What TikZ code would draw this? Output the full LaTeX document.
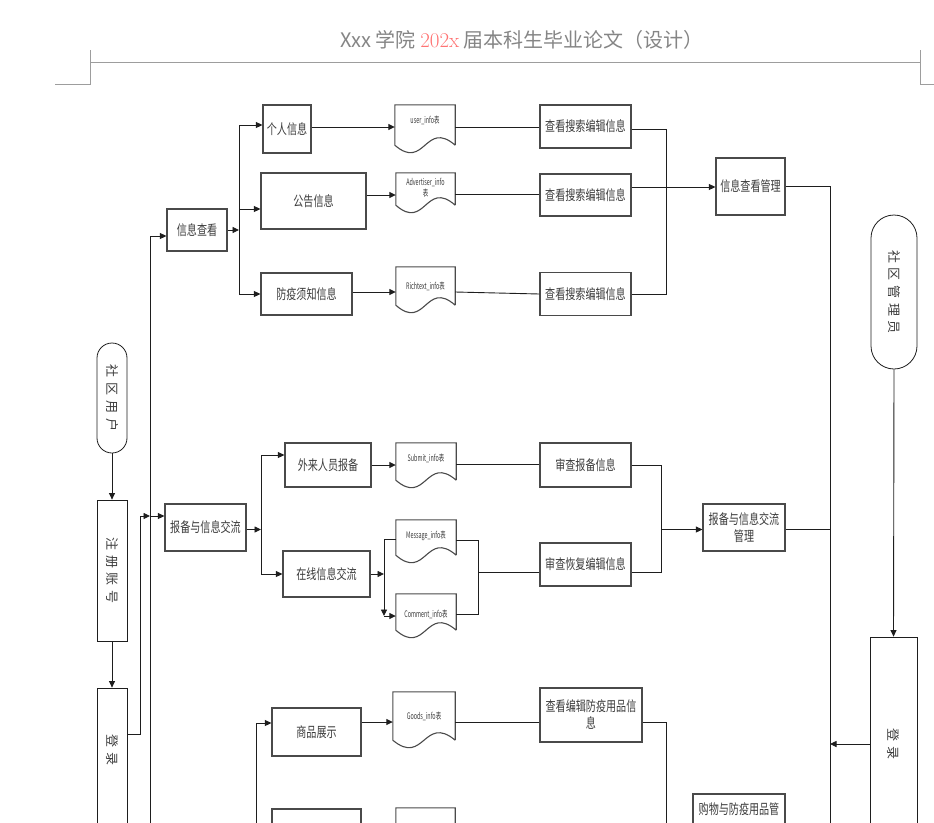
\documentclass[tikz,border=0pt]{standalone}
\usepackage{fontspec}
\newfontfamily\boxfont[FakeStretch=0.72]{Noto Sans CJK SC}
\newfontfamily\vertfont[LetterSpace=36]{Noto Sans CJK SC}
\newfontfamily\docfont[FakeStretch=0.6]{Noto Sans CJK SC}
\newfontfamily\headfont{Noto Sans CJK SC}
\usepackage{xcolor}
\definecolor{cLine}{HTML}{1E1E1E}
\definecolor{cBorder}{HTML}{4A4A4A}
\definecolor{cText}{HTML}{3C3C3C}
\definecolor{cHead}{HTML}{858585}
\definecolor{cRed}{HTML}{FF7373}
\usepackage{tikz}
\usetikzlibrary{positioning, arrows.meta, calc}

% document shape drawn round a (borderless) node
\newcommand{\docshape}[1]{%
  \draw[docline] (#1.south east) -- (#1.north east) -- (#1.north west) -- (#1.south west)
    .. controls ($(#1.south)+(0,26)$) and ($(#1.south)+(0,-26)$) .. (#1.south east);}
\newcommand{\vtxt}[1]{\rotatebox{-90}{#1}}

\begin{document}
\begin{tikzpicture}[
    x=1pt, y=-1pt,
    procbox/.style={draw=cBorder, line width=1.2pt, fill=white, align=center,
                    inner sep=1pt, text=cText, font={\fontsize{14}{17}\boxfont}},
    endbox/.style={procbox, line width=0.8pt, draw=cLine, font={\fontsize{13}{15}\vertfont}},
    docbox/.style={inner sep=0pt, align=center, text=cText,
                   font={\fontsize{9}{11}\docfont}},
    docline/.style={draw=cBorder, line width=1.1pt, fill=white},
    arr/.style={-{Triangle[length=6.5pt,width=6pt]}, line width=0.9pt, draw=cLine},
    ln/.style={line width=0.9pt, draw=cLine},
    hdrline/.style={draw=cHead!80, line width=0.8pt}
]
\useasboundingbox (0,0) rectangle (934,822);
\clip (0,0) rectangle (934,822);

% header
\node[text=cHead, inner sep=0pt] (hdr) at (522,40)
  {{\fontsize{20}{22}\headfont Xxx 学院 }{\fontsize{21}{22}\rmfamily\color{cRed}202x}{\fontsize{20}{22}\headfont\ 届本科生毕业论文（设计）}};
\draw[hdrline] (90,62) -- (920,62);
\draw[hdrline] (55,84) -- (90,84) -- (90,50);
\draw[hdrline] (934,84) -- (920,84) -- (920,50);

% actors
\node[endbox, rounded corners=15pt, minimum width=30, minimum height=110] (yh) at (112,398) {\vtxt{社区用户}};
\node[endbox, rounded corners=23pt, minimum width=46, minimum height=154] (gly) at (894,292) {\vtxt{社区管理员}};
\node[endbox, minimum width=30, minimum height=141] (zc) at (112,570.5) {\vtxt{注册账号}};
\node[endbox, minimum width=30, minimum height=212] (dl1) at (112,794) {};
\node[inner sep=0pt, text=cText, font={\fontsize{13}{15}\vertfont}] (dl1txt) at (112,750) {\vtxt{登录}};
\node[endbox, minimum width=47, minimum height=214] (dl2) at (893.5,744) {\vtxt{登录}};

% info view
\node[procbox, minimum width=60, minimum height=42] (xxck) at (197,230) {信息查看};
\node[procbox, minimum width=48, minimum height=48] (gerenxx) at (287,129) {个人信息};
\node[procbox, minimum width=105, minimum height=56] (gonggao) at (313.5,201) {公告信息};
\node[procbox, minimum width=91, minimum height=42] (fangyi) at (306.5,294) {防疫须知信息};
\node[docbox, minimum width=60, minimum height=40] (user) at (425,125) {};
\node[docbox, minimum width=59, minimum height=32] (adv) at (425.5,189) {};
\node[docbox, minimum width=59, minimum height=38] (rich) at (425.5,286) {};
\node[procbox, minimum width=91, minimum height=43] (ck1) at (585.5,126.5) {查看搜索编辑信息};
\node[procbox, minimum width=91, minimum height=42] (ck2) at (585.5,195) {查看搜索编辑信息};
\node[procbox, minimum width=91, minimum height=43] (ck3) at (585.5,294) {查看搜索编辑信息};
\node[procbox, minimum width=69, minimum height=57] (xxckgl) at (750.5,186.5) {信息查看管理};

% report and messages
\node[procbox, minimum width=81, minimum height=47] (bbxx) at (205.5,527.5) {报备与信息交流};
\node[procbox, minimum width=86, minimum height=44] (wbry) at (328,465) {外来人员报备};
\node[procbox, minimum width=87, minimum height=46] (zxxx) at (326.5,574) {在线信息交流};
\node[docbox, minimum width=60, minimum height=37] (submit) at (426,461.5) {};
\node[docbox, minimum width=60, minimum height=35] (msg) at (426,537.5) {};
\node[docbox, minimum width=60, minimum height=36] (cmt) at (426,612) {};
\node[procbox, minimum width=91, minimum height=44] (shbb) at (585.5,465) {审查报备信息};
\node[procbox, minimum width=91, minimum height=43] (shcf) at (585.5,564.5) {审查恢复编辑信息};
\node[procbox, minimum width=82, minimum height=47] (bbgl) at (744,527.5) {报备与信息交流\\管理};

% shop
\node[procbox, minimum width=89, minimum height=48] (spzs) at (316.5,732) {商品展示};
\node[docbox, minimum width=62, minimum height=48] (goods) at (424,716) {};
\node[procbox, minimum width=102, minimum height=54] (ckfy) at (591,715) {查看编辑防疫用品信\\息};
\node[procbox, minimum width=92, minimum height=50, font={\fontsize{14}{21}\boxfont}] (gwgl) at (739,819) {购物与防疫用品管\\理};
\node[procbox, minimum width=89, minimum height=48] (row4a) at (316.5,833) {};
\node[docbox, minimum width=59, minimum height=44] (row4b) at (425.5,830) {};

% document shapes and their labels
\foreach \d in {user, adv, rich, submit, msg, cmt, goods, row4b} {\docshape{\d}}
\node[docbox] at ([yshift=5]user.center) {user\_info表};
\node[docbox] at ([yshift=1]adv.center) {Advertiser\_info\\表};
\node[docbox] at (rich.center) {Richtext\_info表};
\node[docbox] at ([yshift=3]submit.center) {Submit\_info表};
\node[docbox] at ([yshift=2]msg.center) {Message\_info表};
\node[docbox] at ([yshift=-2]cmt.center) {Comment\_info表};
\node[docbox] at (goods.center) {Goods\_info表};

% junction points
\coordinate (bus) at (150,900);
\coordinate (k1) at (140,516);
\coordinate (k2) at (256,900);
\coordinate (j1) at (239,0);
\coordinate (m1) at (666,0);
\coordinate (rbus) at (830,900);
\coordinate (j2) at (261,0);
\coordinate (j3) at (384,0);
\coordinate (j4) at (478,0);
\coordinate (j5) at (661,0);
\coordinate (k3) at (666,900);
\coordinate (sh) at ([yshift=-8]shcf.west);
\coordinate (sh2) at ([yshift=-8]shcf.east);

% user side
\draw[arr] (yh.south) -- (zc.north);
\draw[arr] (zc.south) -- (dl1.north);
\draw[arr] ([yshift=-47]dl1.north east) -| (k1) -- (k1 -| bus);
\draw[ln] ([yshift=-6]xxck.west -| bus) -- (bus);
\draw[arr] ([yshift=-6]xxck.west -| bus) -- ([yshift=-6]xxck.west);
\draw[arr] (k1 -| bus) -- (k1 -| bbxx.west);
\draw[arr] (k2) |- ([yshift=9]spzs.west);

% info view
\draw[arr] (xxck.east) -- (xxck.east -| j1);
\draw[ln] ([yshift=4]j1 |- gerenxx) -- (j1 |- fangyi);
\draw[arr] ([yshift=4]j1 |- gerenxx) -- ([yshift=4]gerenxx.west);
\draw[arr] ([yshift=-8]j1 |- gonggao) -- ([yshift=-8]gonggao.west);
\draw[arr] (j1 |- fangyi) -- (fangyi.west);
\draw[arr] ([yshift=2]gerenxx.east) -- ([yshift=2]gerenxx.east -| user.west);
\draw[arr] ([yshift=6]gonggao.east) -- ([yshift=6]gonggao.east -| adv.west);
\draw[arr] ([yshift=2]fangyi.east) -- ([yshift=2]fangyi.east -| rich.west);
\draw[ln] ([yshift=-2]user.east) -- ([yshift=-2]user.east -| ck1.west);
\draw[ln] ([yshift=-5]adv.east) -- ([yshift=-5]adv.east -| ck2.west);
\draw[ln] ([yshift=-6]rich.east) -- (ck3.west);
\draw[ln] ([yshift=-3]ck1.east) -| (m1 |- ck3) -- (ck3.east);
\draw[arr] ([yshift=8]ck2.east) -- ([yshift=8]ck2.east -| xxckgl.west);
\draw[ln] (xxckgl.east) -| (rbus);

% report and messages
\draw[arr] ([yshift=-2]bbxx.east) -- ([yshift=-2]bbxx.east -| j2);
\draw[ln] ([yshift=10]j2 |- wbry) -- (j2 |- zxxx);
\draw[arr] ([yshift=10]j2 |- wbry) -- ([yshift=10]wbry.west);
\draw[arr] (j2 |- zxxx) -- (zxxx.west);
\draw[arr] (wbry.east) -- (wbry.east -| submit.west);
\draw[ln] ([yshift=-3]submit.east) -- ([yshift=-3]submit.east -| shbb.west);
\draw[arr] (zxxx.east) -- (zxxx.east -| j3);
\draw[arr] ([yshift=-2]msg.west) -| ([yshift=-4]j3 |- cmt);
\draw[arr] ([yshift=-4]j3 |- cmt) -- ([yshift=-4]cmt.west);
\draw[ln] ([yshift=-3]msg.east) -| ([yshift=-2]j4 |- cmt) -- ([yshift=-2]cmt.east);
\draw[ln] (j4 |- sh) -- (sh);
\draw[ln] (shbb.east) -| (j5 |- sh2) -- (sh2);
\draw[arr] ([yshift=-2]j5 |- bbgl) -- ([yshift=-2]bbgl.west);
\draw[ln] ([yshift=-2]bbgl.east) -- ([yshift=-2]bbgl.east -| rbus);

% shop
\draw[arr] ([yshift=10]spzs.east) -- ([yshift=10]spzs.east -| goods.west);
\draw[ln] ([yshift=-6]goods.east) -- ([yshift=-6]goods.east -| ckfy.west);
\draw[ln] ([yshift=-7]ckfy.east) -| (k3);

% manager side
\draw[arr] (gly.south) -- (dl2.north);
\draw[arr] (dl2.west) -- (dl2.west -| rbus);
\end{tikzpicture}
\end{document}
